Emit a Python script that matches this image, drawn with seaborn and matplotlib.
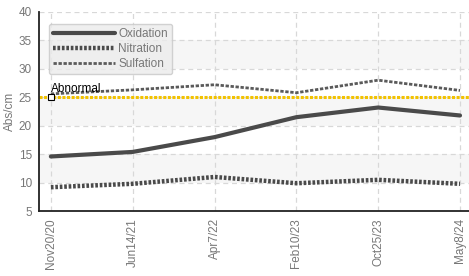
import matplotlib
matplotlib.use("Agg")
import matplotlib.pyplot as plt
import seaborn as sns
import pandas as pd

dates = ["Nov20/20", "Jun14/21", "Apr7/22", "Feb10/23", "Oct25/23", "May8/24"]
oxidation = [14.6, 15.4, 18.0, 21.5, 23.2, 21.8]
nitration = [9.2, 9.8, 11.0, 9.9, 10.5, 9.8]
sulfation = [25.6, 26.3, 27.2, 25.8, 28.0, 26.2]
abnormal = 25

sns.set_style("white")
plt.rcParams["font.family"] = ["Liberation Sans", "DejaVu Sans"]

df = pd.DataFrame({"date": dates, "Oxidation": oxidation,
                   "Nitration": nitration, "Sulfation": sulfation})
df["x"] = range(len(dates))

fig, ax = plt.subplots(figsize=(4.69, 2.76), dpi=100)
fig.subplots_adjust(left=0.083, right=1.0, top=0.957, bottom=0.235)

# alternating bands
for lo in (10, 20, 30):
    ax.axhspan(lo, lo + 5, color="#f6f6f6", zorder=0, lw=0)

sns.lineplot(data=df, x="x", y="Oxidation", ax=ax, color="#4a4a4a", lw=3,
             label="Oxidation", zorder=3)
sns.lineplot(data=df, x="x", y="Nitration", ax=ax, color="#4a4a4a", lw=3.2,
             ls=(0, (0.6, 0.4)), label="Nitration", zorder=3)
sns.lineplot(data=df, x="x", y="Sulfation", ax=ax, color="#5a5a5a", lw=2,
             ls=(0, (1.2, 0.6)), label="Sulfation", zorder=3)

ax.axhline(abnormal, color="#f2c200", lw=2.2, ls=(0, (1, 0.5)), zorder=2)
ax.plot([0], [abnormal], marker="s", ms=4, mfc="white", mec="black", mew=0.8, zorder=4)
ax.text(0, abnormal + 0.4, "Abnormal", fontsize=8.5, color="black",
        va="bottom", ha="left", zorder=5)

ax.set_xlim(-0.146, 5.11)
ax.set_ylim(5, 40)
ax.set_yticks(range(5, 41, 5))
ax.set_xticks(df["x"])
ax.set_xticklabels(dates, rotation=90)
ax.set_xlabel("")
ax.set_ylabel("Abs/cm", color="#777777", fontsize=8.5, labelpad=2)
ax.tick_params(axis="both", colors="#222222", labelcolor="#777777", labelsize=8.5,
               length=6, width=1.2, direction="inout", pad=2)
ax.grid(True, color="#d8d8d8", ls=(0, (4, 3)), lw=0.9)
for s in ("top", "right"):
    ax.spines[s].set_visible(False)
for s in ("left", "bottom"):
    ax.spines[s].set_color("#222222")
    ax.spines[s].set_linewidth(1.3)

leg = ax.legend(loc="upper left", bbox_to_anchor=(0.01, 0.97), fontsize=8.5,
                frameon=True, fancybox=True, handlelength=5.2, handletextpad=0.3,
                labelspacing=0.25, borderpad=0.35)
leg.get_frame().set_facecolor("#ececec")
leg.get_frame().set_edgecolor("#c8c8c8")
for t in leg.get_texts():
    t.set_color("#777777")

fig.savefig("out.png", dpi=100)
